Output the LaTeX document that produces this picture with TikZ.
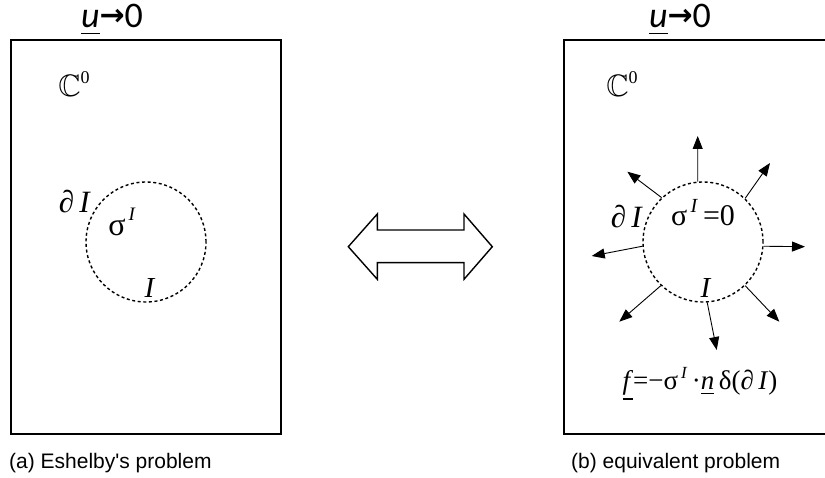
\documentclass[tikz,border=0pt]{standalone}
\usepackage{amssymb}
\usepackage{fontspec}
\setmainfont{Liberation Serif}
\newfontfamily\carlito{Carlito}
\newfontfamily\dejavu{DejaVu Sans}
\newfontfamily\libsans{Liberation Sans}
\usetikzlibrary{arrows.meta}
\newcommand{\fsz}[1]{\fontsize{#1}{#1}\selectfont}
\begin{document}
\begin{tikzpicture}[x=1pt,y=-1pt,
  boxline/.style={line width=1.6pt, line cap=rect},
  incl/.style={circle, draw, line width=1.4pt, dash pattern=on 3pt off 2.6pt, minimum size=120pt, inner sep=0pt},
  force/.style={line width=0.9pt, -{Triangle[length=13pt,width=10pt]}},
  lbl/.style={inner sep=0pt, anchor=center},
  toplbl/.style={inner sep=0pt, anchor=base},
  captext/.style={inner sep=0pt, anchor=west, font=\libsans\fsz{21}}]
\useasboundingbox (0,0) rectangle (825,478);
% boxes
\draw[boxline] (11,40) rectangle (281,434);
\draw[boxline] (825,40) -- (564,40) -- (564,434) -- (825,434);
% top labels
\node[toplbl] (ua) at (112,28) {\carlito\fsz{36}\underline{\textit{u}}{\dejavu\bfseries\fsz{30}\raisebox{2pt}{→}}0};
\node[toplbl] (ub) at (680,28) {\carlito\fsz{36}\underline{\textit{u}}{\dejavu\bfseries\fsz{30}\raisebox{2pt}{→}}0};
% C^0
\node[lbl] (ca) at (74,84) {\fsz{31}$\mathbb{C}$\raisebox{13pt}{\fsz{18}0}};
\node[lbl] (cb) at (622,84) {\fsz{31}$\mathbb{C}$\raisebox{13pt}{\fsz{18}0}};
% left inclusion
\node[incl] (c1) at (146,242) {};
\node[lbl] (da) at (75,202) {\fsz{31}∂\,\textit{I}};
\node[lbl] (sa) at (122,222) {\fsz{32}σ\raisebox{15pt}{\fsz{19}\,\textit{I}}};
\node[lbl] (ia) at (150,288) {\fsz{29}\textit{I}};
% right inclusion
\node[incl] (c2) at (703,242) {};
\node[lbl] (db) at (627,217) {\fsz{31}∂\,\textit{I}};
\node[lbl] (sb) at (703,213) {\fsz{30}σ\raisebox{13pt}{\fsz{20}\,\textit{I}}\,=0};
\node[lbl] (ib) at (706,288) {\fsz{29}\textit{I}};
% force arrows
\coordinate (e1) at (697.7,136);
\coordinate (e2) at (770,163);
\coordinate (e3) at (805,246.7);
\coordinate (e4) at (779.3,321.7);
\coordinate (e5) at (716.7,350);
\coordinate (e6) at (619.3,321.7);
\coordinate (e7) at (591.7,256);
\coordinate (e8) at (627.3,171.7);
\draw[force] (c2.95) -- (e1);
\draw[force] (c2.46) -- (e2);
\draw[force] (c2.-4.5) -- (e3);
\draw[force] (c2.-46) -- (e4);
\draw[force] (c2.-86.5) -- (e5);
\draw[force] (c2.-134) -- (e6);
\draw[force] (c2.184.5) -- (e7);
\draw[force] (c2.133) -- (e8);
% formula
\node[lbl] (fb) at (700,384) {\fsz{27}\underline{\textit{f}}=−σ\raisebox{11pt}{\fsz{17}\,\textit{I}}\,·\underline{\textit{n}}\,δ(∂\,\textit{I})};
% double arrow
\draw[line width=1.4pt, line join=miter] (348.3,246.7) -- (377.3,214) -- (377.3,230) -- (464,230) -- (464,214) -- (492.3,246.7) -- (464,279.3) -- (464,262.7) -- (377.3,262.7) -- (377.3,279.3) -- cycle;
% captions
\node[captext] (capa) at (9,463) {(a) Eshelby's problem};
\node[captext] (capb) at (571,463) {(b) equivalent problem};
\end{tikzpicture}
\end{document}
